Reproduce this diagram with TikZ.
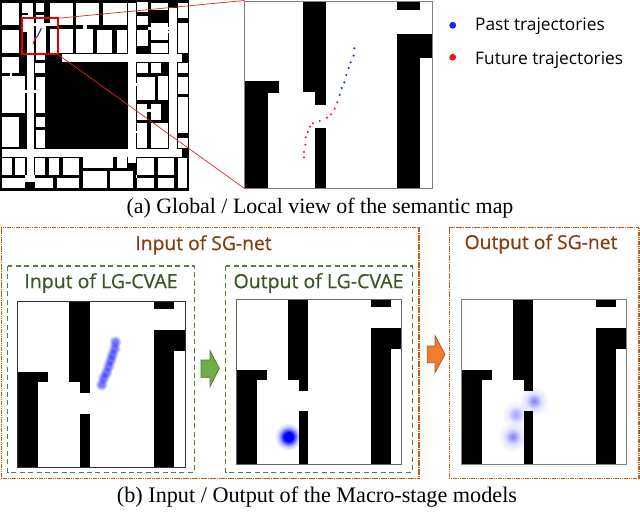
\documentclass[tikz,border=0pt]{standalone}
\usepackage{fontspec}
\setmainfont{Liberation Serif}
\newfontfamily\uifont{Open Sans}
\newfontfamily\titlefont[FakeBold=0.5]{Open Sans}
\definecolor{brownbox}{RGB}{197,90,17}
\definecolor{browntext}{RGB}{132,60,12}
\definecolor{greenbox}{RGB}{84,130,53}
\definecolor{greentext}{RGB}{56,87,35}
\definecolor{arrowgreen}{RGB}{112,173,71}
\definecolor{arrowgreenedge}{RGB}{80,125,50}
\definecolor{arroworange}{RGB}{237,125,49}
\definecolor{arroworangeedge}{RGB}{174,90,33}
\definecolor{zoomred}{RGB}{222,40,40}
\definecolor{framered}{RGB}{232,0,0}
\definecolor{trajblue}{RGB}{20,40,255}
\definecolor{trajred}{RGB}{240,20,30}
\definecolor{bA}{RGB}{0,0,255}
\definecolor{bB}{RGB}{110,110,255}
\definecolor{bC}{RGB}{205,205,255}
\definecolor{bD}{RGB}{125,125,255}
\definecolor{bE}{RGB}{170,170,255}
\definecolor{bF}{RGB}{225,225,255}
\definecolor{bG}{RGB}{165,165,255}
\definecolor{bH}{RGB}{190,190,255}
\definecolor{bI}{RGB}{235,235,255}
\definecolor{bJ}{RGB}{120,120,255}
\definecolor{bK}{RGB}{200,200,255}
\pgfdeclareradialshading{blobstrong}{\pgfpointorigin}{color(0bp)=(bA);color(8bp)=(bA);color(13bp)=(bB);color(18bp)=(bC);color(25bp)=(white);color(50bp)=(white)}
\pgfdeclareradialshading{blobsoft}{\pgfpointorigin}{color(0bp)=(bD);color(6bp)=(bE);color(13bp)=(bF);color(25bp)=(white);color(50bp)=(white)}
\pgfdeclareradialshading{blobpale}{\pgfpointorigin}{color(0bp)=(bG);color(7bp)=(bH);color(14bp)=(bI);color(25bp)=(white);color(50bp)=(white)}
\pgfdeclareradialshading{blobdot}{\pgfpointorigin}{color(0bp)=(bJ);color(10bp)=(bJ);color(18bp)=(bK);color(25bp)=(white);color(50bp)=(white)}
\tikzset{
  x=1pt,y=-1pt,
  dotbox/.style={draw=brownbox,dash pattern=on 1.3pt off .5pt,line width=1.3pt},
  dashbox/.style={draw=greenbox,dash pattern=on 5pt off 3.4pt,line width=1.25pt},
  sgtitle/.style={font=\titlefont\fontsize{19.3}{22}\selectfont,text=browntext,inner sep=0pt,anchor=center},
  lgtitle/.style={font=\titlefont\fontsize{19.5}{22}\selectfont,text=greentext,inner sep=0pt,anchor=center},
  legendtext/.style={font=\uifont\fontsize{17.3}{20}\selectfont,text=black,inner sep=0pt,anchor=west},
  captiontext/.style={font=\fontsize{21.9}{24}\selectfont,text=black,inner sep=0pt,anchor=center},
  zoomline/.style={draw=zoomred,line width=.7pt},
  bluedot/.style={fill=trajblue},
  reddot/.style={fill=trajred},
}
% x0 y0 sx sy blobcode framecolor
\newcommand{\lmap}[6]{%
  \fill[white] (#1,#2) rectangle ++(504*#3,500*#4);
  \begin{scope}[blend mode=multiply]#5\end{scope}
  \begin{scope}[shift={(#1,#2)},x=#3 pt,y=-#4 pt]
    \fill[black] (156,0) rectangle (219,243);
    \fill[black] (189,243) rectangle (219,276);
    \fill[black] (409,0) rectangle (471,23);
    \fill[black] (409,87) rectangle (504,150);
    \fill[black] (409,150) rectangle (471,500);
    \fill[black] (0,213) rectangle (93,244);
    \fill[black] (0,244) rectangle (62,500);
    \fill[black] (189,339) rectangle (219,500);
    \draw[#6,line width=.7pt] (0,0) rectangle (504,500);
  \end{scope}}
\newcommand{\wroom}[4]{\fill[white] (#1,#2) rectangle (#3,#4);}
\begin{document}
\begin{tikzpicture}
\useasboundingbox (0,0) rectangle (640,513);
\fill[white] (0,0) rectangle (640,513);
% global map, drawn in 3x zoom coordinates
\begin{scope}[x=.3333pt,y=-.3333pt]
  \fill[black] (0,0) rectangle (568,572);
  \foreach \a/\b/\c/\d in {
    80/50/103/545, 385/10/407/490, 507/25/530/470, 6/447/547/470, 185/162/547/185,
    65/45/85/95, 103/68/172/78, 6/8/57/75, 65/8/90/38, 85/8/100/50, 108/8/133/36, 108/44/133/68,
    150/8/218/75, 228/8/298/75, 308/8/382/75, 6/90/57/160, 108/78/137/165, 150/88/172/160,
    172/88/218/160, 228/88/280/160, 290/90/337/158, 350/90/382/158, 250/75/260/88,
    412/5/443/35, 410/48/443/75, 412/90/443/138, 453/8/503/30, 453/68/503/120, 453/128/503/158,
    533/8/563/55, 533/68/563/160, 443/80/507/90, 503/92/507/98,
    410/190/443/220, 453/190/482/220, 533/190/563/220, 410/230/465/300, 473/228/503/300,
    533/230/563/282, 412/313/442/360, 453/313/482/360, 442/327/453/335, 410/370/442/443,
    453/370/503/443, 533/290/563/400, 533/413/563/443, 403/392/410/400, 403/250/410/258,
    6/170/57/218, 30/218/37/228, 6/228/75/340, 6/350/57/440, 108/165/135/180, 105/190/135/218,
    108/230/135/340, 108/352/135/380, 108/390/135/445, 75/270/80/280, 103/270/108/280,
    6/475/35/525, 45/475/75/525, 105/475/135/525, 147/475/178/525, 188/475/238/525,
    250/472/340/505, 350/472/382/505, 250/512/320/565, 330/512/400/565,
    410/473/463/525, 473/473/523/525, 410/533/463/565, 473/533/523/565, 533/473/560/565,
    6/535/75/563, 105/535/158/563, 170/535/238/563, 75/525/105/545, 407/525/410/533}
  {\wroom{\a}{\b}{\c}{\d}}
\end{scope}
\coordinate (zoomtr) at (57.7,18.3);
\coordinate (zoombr) at (57.7,54.3);
% local view
\lmap{244.5}{1.5}{.3735}{.374}{}{gray}
\coordinate (localtl) at (244.5,.5);
\coordinate (localbl) at (244.5,188.5);
\draw[zoomline] (zoomtr) -- (localtl);
\draw[zoomline] (zoombr) -- (localbl);
% red frame of the zoomed region
\fill[framered] (20.9,17.5) rectangle (58.5,19.1);
\fill[framered] (20.9,53.5) rectangle (58.5,55.1);
\fill[framered] (20.9,17.5) rectangle (22.5,55.1);
\fill[framered] (56.9,17.5) rectangle (58.5,55.1);
\draw[trajblue,line width=1.1pt] (41.3,28.3) -- (37.3,36.7);
\draw[trajred,line width=1.1pt] (37.3,36.7) -- (35,38.3) -- (33,44.3);
\begin{scope}[x=.3333pt,y=-.3333pt,shift={(570,0)}]
  \foreach \a/\b in {493/145,491/167,482/187,476/204,469/225,463/247,455/264,449/285}
    {\fill[bluedot] (\a,\b) circle (3.4);}
  \foreach \a/\b in {442/307,434/326,423/343,411/353,389/363,369/370,360/380,353/396,347/412,346/434,342/456,342/472}
    {\fill[reddot] (\a,\b) circle (3.4);}
\end{scope}
% legend
\fill[bluedot] (452.7,25.3) circle (3.4);
\fill[reddot] (452.7,57.3) circle (3.4);
\node[legendtext] (pastlabel) at (475,26) {Past trajectories};
\node[legendtext] (futurelabel) at (475,60) {Future trajectories};
\node[captiontext] (captiona) at (320,208) {(a) Global / Local view of the semantic map};
% boxes
\draw[dotbox] (1.2,227.7) rectangle (419,478.3);
\draw[dotbox] (449.3,227.7) rectangle (639,478.3);
\draw[dashbox] (7.7,266) rectangle (194.3,472.3);
\draw[dashbox] (225.7,266) rectangle (412.3,472.3);
\node[sgtitle] (sgin) at (203.5,245) {Input of SG-net};
\node[sgtitle] (sgout) at (541,244) {Output of SG-net};
\node[lgtitle] (lgin) at (101,283) {Input of LG-CVAE};
\node[lgtitle] (lgout) at (318.5,283) {Output of LG-CVAE};
% maps
\lmap{17.3}{301}{.3335}{.3335}{
  \foreach \a/\b in {115/341.7,114.3/348.3,112/354.3,110.3/360,108.3/366,106/372.3,103.3/377.7,101.3/384.3}
    {\shade[shading=blobdot] (\a,\b) circle (6.5);}
}{black!80}
\lmap{236.7}{299.7}{.3274}{.3292}{
  \shade[shading=blobstrong] (288.3,436.7) circle (14);
}{black!60}
\lmap{461.7}{299.7}{.3274}{.3292}{
  \shade[shading=blobsoft] (534,401) circle (15);
  \shade[shading=blobpale] (515.7,414.3) circle (14);
  \shade[shading=blobsoft] (512.7,436.7) circle (15);
}{black!50}
% arrows
\draw[fill=arrowgreen,draw=arrowgreenedge,line width=.8pt,line join=miter]
  (201,360) -- (210,360) -- (210,350.7) -- (219.3,368.3) -- (210,386.7) -- (210,377.3) -- (201,377.3) -- cycle;
\draw[fill=arroworange,draw=arroworangeedge,line width=.8pt,line join=miter]
  (427.3,346) -- (435,346) -- (435,335.7) -- (445,354.3) -- (435,372.7) -- (435,362.7) -- (427.3,362.7) -- cycle;
\node[captiontext,font=\fontsize{22.2}{24}\selectfont] (captionb) at (317,497) {(b) Input / Output of the Macro-stage models};
\end{tikzpicture}
\end{document}
